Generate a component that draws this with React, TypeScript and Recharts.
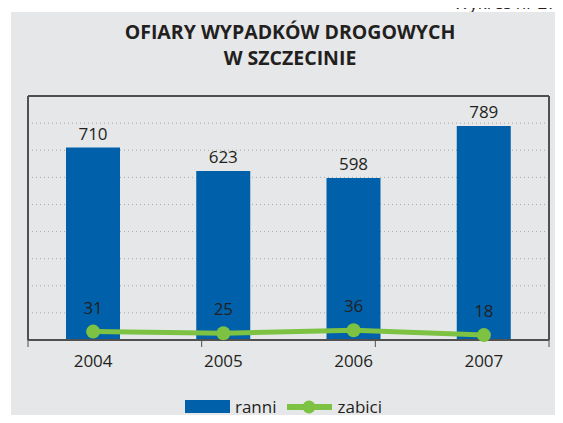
import { ComposedChart, Bar, Line, XAxis, YAxis, CartesianGrid, LabelList, Legend } from 'recharts'

const years = ['2004', '2005', '2006', '2007']
const ranni = [710, 623, 598, 789]
const zabici = [31, 25, 36, 18]
const yTicks = [0, 100, 200, 300, 400, 500, 600, 700, 800, 900]
const boundaryTicks = [0, 1, 2, 3, 4]

const data = years.map((year, i) => ({ year, ranni: ranni[i], zabici: zabici[i] }))

const font = '"Open Sans", "Noto Sans", sans-serif'
const textColor = '#231f20'
const blue = '#0061aa'
const green = '#7dc242'
const frame = '#505050'

const renderLegend = () => (
  <div
    style={{
      display: 'flex',
      justifyContent: 'center',
      alignItems: 'center',
      paddingRight: 10,
      fontFamily: font,
      fontSize: 17,
      lineHeight: '20px',
      color: textColor,
    }}
  >
    <svg width={45} height={14} style={{ marginRight: 5 }}>
      <rect x={0} y={0} width={45} height={13} fill={blue} />
    </svg>
    <span style={{ marginRight: 10 }}>ranni</span>
    <svg width={45} height={16} style={{ marginRight: 6 }}>
      <line x1={0} y1={8} x2={45} y2={8} stroke={green} strokeWidth={6} />
      <circle cx={22} cy={8} r={6.5} fill={green} />
    </svg>
    <span>zabici</span>
  </div>
)

export default function App() {
  return (
    <div style={{ position: 'relative', width: 563, height: 423, margin: -8, overflow: 'hidden', background: '#fff' }}>
      <div
        style={{
          position: 'absolute',
          right: 6,
          top: -9,
          fontFamily: font,
          fontSize: 17,
          color: textColor,
        }}
      >
        Wykres nr 27
      </div>
      <div style={{ position: 'absolute', left: 11, top: 12, right: 0, bottom: 0, background: '#e6e7e9' }} />
      <div
        style={{
          position: 'absolute',
          left: 0,
          width: 580,
          top: 19,
          textAlign: 'center',
          fontFamily: font,
          fontWeight: 700,
          fontSize: 19.5,
          lineHeight: '26px',
          color: textColor,
        }}
      >
        OFIARY WYPADKÓW DROGOWYCH
        <br />W SZCZECINIE
      </div>
      <div style={{ position: 'absolute', left: 0, top: 0 }}>
        <ComposedChart width={563} height={423} data={data} margin={{ top: 95, right: 13, left: 27, bottom: 0 }}>
          <CartesianGrid xAxisId="cat" yAxisId="left" horizontal vertical={false} stroke="#a9a9a9" strokeDasharray="1 3" />
          <YAxis
            yAxisId="left"
            domain={[0, 900]}
            ticks={yTicks}
            width={1}
            tickFormatter={() => ''}
            tickLine={false}
            axisLine={{ stroke: frame, strokeWidth: 2 }}
          />
          <YAxis yAxisId="right" orientation="right" domain={[0, 900]} width={1} tick={false} tickLine={false} axisLine={{ stroke: frame, strokeWidth: 2 }} />
          <XAxis xAxisId="top" orientation="top" dataKey="year" height={1} tick={false} tickLine={false} axisLine={{ stroke: frame, strokeWidth: 2 }} />
          <XAxis
            xAxisId="bounds"
            type="number"
            domain={[0, 4]}
            ticks={boundaryTicks}
            height={1}
            tickFormatter={() => ''}
            tickSize={7}
            tickLine={{ stroke: frame }}
            axisLine={{ stroke: frame, strokeWidth: 2 }}
          />
          <XAxis
            xAxisId="cat"
            dataKey="year"
            height={62}
            axisLine={false}
            tickLine={false}
            tick={{ fontFamily: font, fontSize: 17, fill: textColor }}
            dy={6}
          />
          <Legend verticalAlign="bottom" content={renderLegend} wrapperStyle={{ bottom: 6 }} />
          <Bar xAxisId="cat" yAxisId="left" dataKey="ranni" fill={blue} barSize={54} isAnimationActive={false}>
            <LabelList dataKey="ranni" position="top" offset={8} style={{ fontFamily: font, fontSize: 17, fill: textColor }} />
          </Bar>
          <Line
            xAxisId="cat"
            yAxisId="left"
            dataKey="zabici"
            stroke={green}
            strokeWidth={5}
            dot={{ r: 7, fill: green, stroke: green, strokeWidth: 0 }}
            isAnimationActive={false}
          >
            <LabelList dataKey="zabici" position="top" offset={18} style={{ fontFamily: font, fontSize: 17, fill: textColor }} />
          </Line>
        </ComposedChart>
      </div>
    </div>
  )
}
